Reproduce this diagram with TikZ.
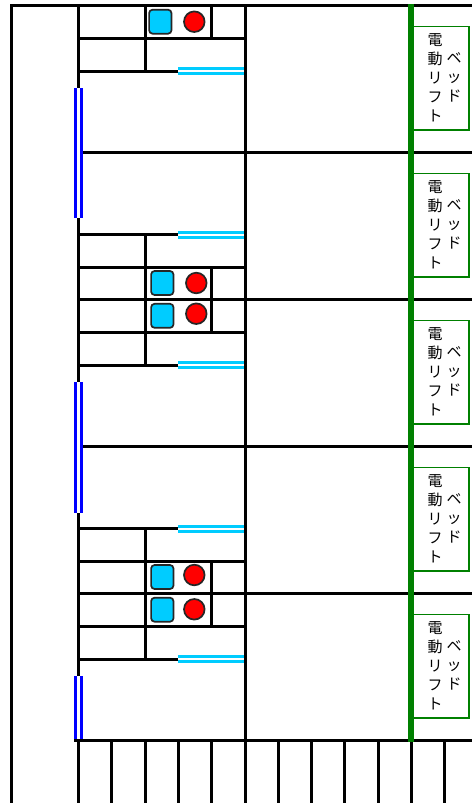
\documentclass[tikz,border=0pt]{standalone}
\usepackage{fontspec}
\newfontfamily\cjk{Noto Sans CJK JP}
\definecolor{cyanc}{HTML}{00CCFF}
\definecolor{bedgreen}{HTML}{008000}
\tikzset{
  wall/.style={draw=black,line width=3pt},
  bluewin/.style={draw=blue,line width=3pt},
  cyanwin/.style={draw=cyanc,line width=3pt},
  greenwall/.style={draw=bedgreen,line width=5.6pt},
  squarebox/.style={draw=black!85,line width=1.7pt,fill=cyanc,rounded corners=3.5pt,minimum width=22.4pt,minimum height=24pt,inner sep=0pt},
  reddot/.style={circle,draw=black!85,line width=1.7pt,fill=red,minimum size=20.6pt,inner sep=0pt},
  bedbox/.style={draw=bedgreen,line width=1.5pt,fill=white,minimum width=56pt,minimum height=103.5pt,inner sep=0pt},
  vtext/.style={font=\cjk\fontsize{15}{18.9}\selectfont,align=center,inner sep=0pt,text=black},
}
\begin{document}
\begin{tikzpicture}[x=1pt,y=-1pt]
\useasboundingbox (0,0) rectangle (472,803);
\clip (0,0) rectangle (472,803);
\fill[white] (0,0) rectangle (472,803);
% long lines
\draw[wall] (11.7,5.5) -- (472,5.5);
\foreach \x in {11.7,78.3,245} \draw[wall] (\x,4) -- (\x,803);
\foreach \y in {152,299,446,593} \draw[wall] (78.3,\y) -- (472,\y);
\draw[wall] (74,740) -- (472,740);
\foreach \x in {111.7,145,178.3,211.7,278.3,311.7,344.7,378.3,411.3,444.7} \draw[wall] (\x,740) -- (\x,803);
% rooms
\draw[wall] (145,5) -- (145,71);
\draw[wall] (211.5,5) -- (211.5,38);
\draw[wall] (78.3,38.3) -- (245,38.3);
\draw[wall] (78.3,71) -- (178.3,71);
\foreach \a/\b in {234.3/365.3,528.3/659.3} {
  \pgfmathsetmacro{\ya}{\a+33}
  \pgfmathsetmacro{\yb}{\a+98}
  \draw[wall] (145,\a) -- (145,\b);
  \draw[wall] (211.5,\ya) -- (211.5,\yb);
  \draw[wall] (78.3,\a) -- (178.3,\a);
  \draw[wall] (78.3,\b) -- (178.3,\b);
  \draw[wall] (78.3,\ya) -- (245,\ya);
  \draw[wall] (78.3,\yb) -- (245,\yb);
}
% cyan double windows
\foreach \y in {68.7,73.4,232.4,237.2,362.4,367,526.3,531,656.4,661} \draw[cyanwin] (178,\y) -- (243.6,\y);
% blue double windows
\foreach \a/\b in {88/218,382/512.7,676/739} {
  \fill[white] (75,\a) rectangle (82,\b);
  \draw[bluewin] (75.5,\a) -- (75.5,\b);
  \draw[bluewin] (81.3,\a) -- (81.3,\b);
}
% green wall
\draw[greenwall] (411,4) -- (411,741.7);
% fixtures
\node[squarebox] (s1) at (160.3,21.7) {};
\node[reddot] (r1) at (194.3,21.7) {};
\node[squarebox] (s2) at (162.3,283) {};
\node[reddot] (r2) at (196.3,283) {};
\node[squarebox] (s3) at (162.3,315.8) {};
\node[reddot] (r3) at (196.3,313.7) {};
\node[squarebox] (s4) at (162.3,577) {};
\node[reddot] (r4) at (194.3,575) {};
\node[squarebox] (s5) at (162.3,609.7) {};
\node[reddot] (r5) at (194.3,609.3) {};
% bed boxes
\foreach \n/\y in {1/78,2/225,3/372,4/519,5/666} {
  \node[bedbox] (b\n) at (441.2,\y) {};
  \node[vtext] (t\n) at ([xshift=-6.2pt,yshift=0.5pt]b\n.center) {電\\動\\リ\\フ\\ト};
  \node[vtext] (u\n) at ([xshift=12.8pt,yshift=0.5pt]b\n.center) {ベ\\ッ\\ド};
}
\end{tikzpicture}
\end{document}
